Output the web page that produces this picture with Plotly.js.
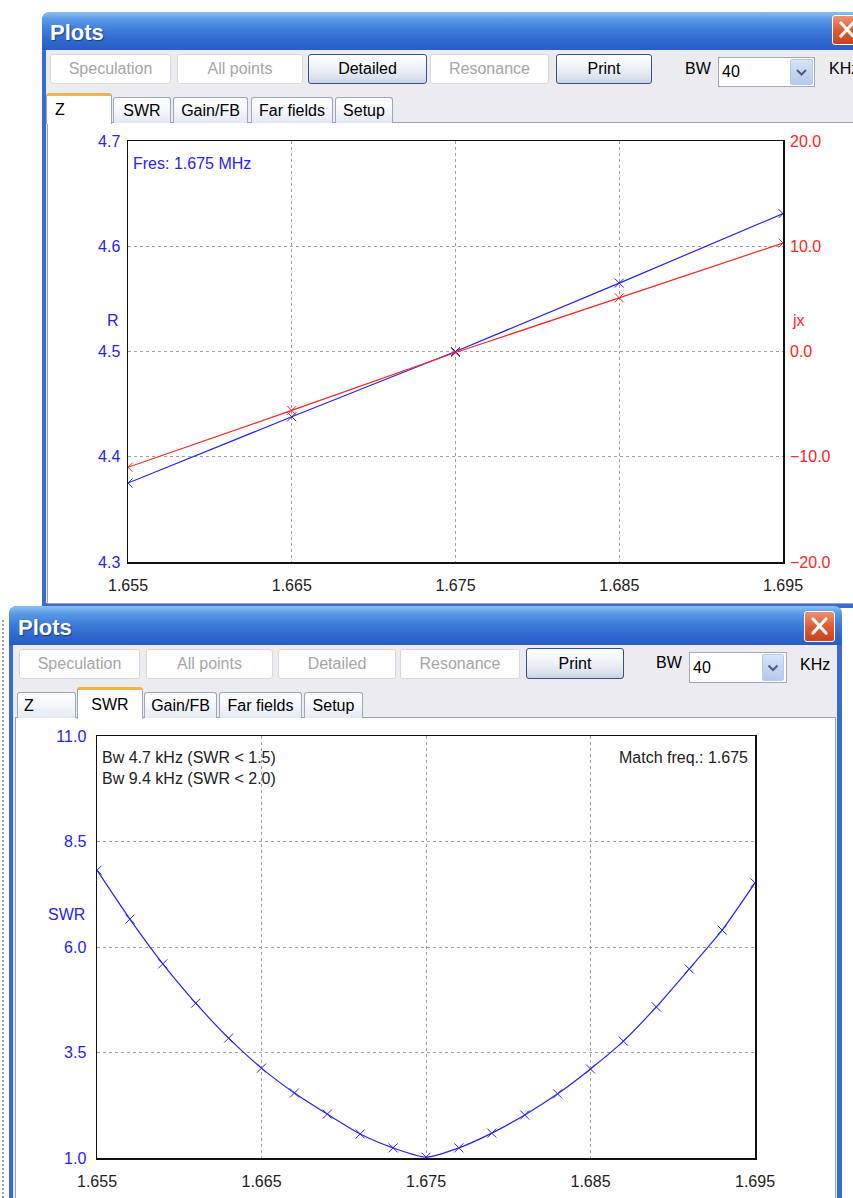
<!DOCTYPE html>
<html><head><meta charset="utf-8">
<script src="https://cdn.plot.ly/plotly-3.0.1.min.js"></script>
<style>
html,body{margin:0;padding:0}
body{width:853px;height:1198px;overflow:hidden;background:#fff;position:relative;font-family:"Liberation Sans",Arial,sans-serif;font-size:16px;color:#000}
.a{position:absolute;box-sizing:border-box}
.frame{background:#3A6AD4;border-radius:8px 8px 0 0}
.title{border-radius:8px 8px 0 0;background:linear-gradient(#8CC2F2 0%,#5C9BE6 18%,#3F7EDB 45%,#2F68CF 75%,#2A5DC4 100%)}
.ttext{color:#fff;font-weight:bold;font-size:22px;text-shadow:1px 1px 1px #1A3C8A;line-height:1}
.body{background:#ECEBF0}
.content{background:#fff;border:1px solid #9AA3B5}
.btn{border:1px solid #D8D8DE;border-radius:3px;background:#fff;color:#A6A6A6;text-align:center;display:flex;align-items:center;justify-content:center}
.btn.on{border:1px solid #35518A;background:linear-gradient(#FFFFFF 0%,#F2F4F9 40%,#DCE2EE 80%,#C9D1E3 100%);color:#000}
.tab{border:1px solid #9AA8BC;border-bottom:none;border-radius:3px 3px 0 0;background:linear-gradient(#FFFFFF 0%,#F4F6FA 50%,#E3E8F1 100%);display:flex;align-items:center;justify-content:center}
.tab.act{background:#fff;border-top:3px solid #F2B24A;z-index:2}
.combo{background:#fff;border:1px solid #9EA9BA;padding-left:3px;display:flex;align-items:center}
.arrow{background:linear-gradient(#D6E3F8,#B4C9EC);border:1px solid #B8C9E6;border-radius:2px}
.close{border-radius:3px;border:1px solid #fff;background:linear-gradient(#EE9270 0%,#DE5C34 50%,#C8431E 100%)}
#plot{position:absolute;left:0;top:0;width:853px;height:1198px;z-index:10}
</style>
</head><body>

<!-- stray dotted line at far left -->
<div class="a" style="left:2px;top:620px;width:2px;height:578px;border-left:2px dotted #444;opacity:0.5"></div>

<!-- ===== TOP WINDOW ===== -->
<div class="a frame" style="left:42px;top:12px;width:830px;height:596px"></div>
<div class="a title" style="left:42px;top:12px;width:830px;height:38px"></div>
<div class="a ttext" style="left:50px;top:22px">Plots</div>
<div class="a close" style="left:832px;top:15px;width:30px;height:30px">
 <svg width="28" height="28" style="position:absolute;left:0;top:0"><path d="M8 7 L20 20 M20 7 L8 20" stroke="#fff" stroke-width="3.2" stroke-linecap="round"/></svg>
</div>
<div class="a body" style="left:46px;top:50px;width:826px;height:553px"></div>
<div class="a btn" style="left:50px;top:54px;width:121px;height:30px">Speculation</div>
<div class="a btn" style="left:177px;top:54px;width:126px;height:30px">All points</div>
<div class="a btn on" style="left:308px;top:54px;width:119px;height:30px">Detailed</div>
<div class="a btn" style="left:430px;top:54px;width:119px;height:30px">Resonance</div>
<div class="a btn on" style="left:556px;top:54px;width:96px;height:30px">Print</div>
<div class="a" style="left:685px;top:60px">BW</div>
<div class="a combo" style="left:718px;top:57px;width:97px;height:30px">40</div>
<div class="a arrow" style="left:790px;top:59px;width:23px;height:26px">
 <svg width="21" height="24" style="position:absolute;left:0;top:0"><path d="M6 10 L10.5 14.5 L15 10" stroke="#4A5E80" stroke-width="2" fill="none"/></svg>
</div>
<div class="a" style="left:829px;top:60px">KHz</div>

<div class="a content" style="left:47px;top:122px;width:830px;height:482px"></div>
<div class="a tab act" style="left:46px;top:93px;width:66px;height:31px;justify-content:flex-start;padding-left:8px">Z</div>
<div class="a tab" style="left:113px;top:97px;width:58px;height:26px">SWR</div>
<div class="a tab" style="left:173px;top:97px;width:75px;height:26px">Gain/FB</div>
<div class="a tab" style="left:251px;top:97px;width:82px;height:26px">Far fields</div>
<div class="a tab" style="left:335px;top:97px;width:58px;height:26px">Setup</div>

<!-- ===== BOTTOM WINDOW ===== -->
<div class="a frame" style="left:9px;top:606px;width:833px;height:600px"></div>
<div class="a title" style="left:9px;top:606px;width:833px;height:39px"></div>
<div class="a ttext" style="left:18px;top:617px">Plots</div>
<div class="a close" style="left:804px;top:611px;width:31px;height:31px">
 <svg width="29" height="29" style="position:absolute;left:0;top:0"><path d="M8 7 L21 21 M21 7 L8 21" stroke="#fff" stroke-width="3.2" stroke-linecap="round"/></svg>
</div>
<div class="a body" style="left:13px;top:645px;width:824px;height:560px"></div>
<div class="a btn" style="left:19px;top:649px;width:121px;height:30px">Speculation</div>
<div class="a btn" style="left:146px;top:649px;width:127px;height:30px">All points</div>
<div class="a btn" style="left:278px;top:649px;width:118px;height:30px">Detailed</div>
<div class="a btn" style="left:400px;top:649px;width:120px;height:30px">Resonance</div>
<div class="a btn on" style="left:526px;top:648px;width:98px;height:31px">Print</div>
<div class="a" style="left:656px;top:654px">BW</div>
<div class="a combo" style="left:689px;top:652px;width:98px;height:31px">40</div>
<div class="a arrow" style="left:762px;top:654px;width:22px;height:27px">
 <svg width="20" height="25" style="position:absolute;left:0;top:0"><path d="M5.5 10.5 L10 15 L14.5 10.5" stroke="#4A5E80" stroke-width="2" fill="none"/></svg>
</div>
<div class="a" style="left:800px;top:656px">KHz</div>

<div class="a content" style="left:15px;top:717px;width:821px;height:490px"></div>
<div class="a tab" style="left:17px;top:692px;width:59px;height:26px;justify-content:flex-start;padding-left:6px">Z</div>
<div class="a tab act" style="left:77px;top:687px;width:66px;height:32px">SWR</div>
<div class="a tab" style="left:144px;top:692px;width:73px;height:26px">Gain/FB</div>
<div class="a tab" style="left:219px;top:692px;width:83px;height:26px">Far fields</div>
<div class="a tab" style="left:304px;top:692px;width:59px;height:26px">Setup</div>

<div id="plot"></div>

<script>
// ---- data ----
const freqZ = [1.655, 1.665, 1.675, 1.685, 1.695];
const resistance = [4.375, 4.438, 4.500, 4.565, 4.631];
const reactance = [-11.0, -5.6, -0.1, 5.1, 10.3];

const freqSWR = [1.655, 1.657, 1.659, 1.661, 1.663, 1.665, 1.667, 1.669, 1.671, 1.673, 1.675,
                 1.677, 1.679, 1.681, 1.683, 1.685, 1.687, 1.689, 1.691, 1.693, 1.695];
const swr = [7.82, 6.66, 5.60, 4.67, 3.84, 3.13, 2.54, 2.04, 1.57, 1.24, 1.02,
             1.24, 1.59, 2.02, 2.52, 3.11, 3.77, 4.58, 5.48, 6.40, 7.52];

const xTicks = [1.655, 1.665, 1.675, 1.685, 1.695];
const rTicks = [4.3, 4.4, 4.5, 4.6, 4.7];
const jxTicks = [-20, -10, 0, 10, 20];
const swrTicks = [1.0, 3.5, 6.0, 8.5, 11.0];

// ---- styling ----
const W = 853, H = 1198;
const px = v => v / W, py = v => 1 - v / H;
const BLUE = '#2323FF', RED = '#FF2424', TXT = '#222';
const FONT = '"Liberation Sans", Arial, sans-serif';

const xCommon = {
  tickvals: xTicks, tickformat: '.3f', range: [1.655, 1.695],
  showgrid: true, gridcolor: '#a0a0a0', griddash: '3px,3px', gridwidth: 1,
  showline: true, linecolor: '#111', linewidth: 1.5, mirror: true,
  zeroline: false, ticks: '', ticklabelstandoff: 8,
  tickfont: {family: FONT, size: 16, color: TXT}, fixedrange: true
};
const yCommon = {
  showgrid: true, gridcolor: '#a0a0a0', griddash: '3px,3px', gridwidth: 1,
  showline: true, linecolor: '#111', linewidth: 1.5, mirror: true,
  zeroline: false, ticks: '', ticklabelstandoff: 3, tickformat: '.1f',
  tickfont: {family: FONT, size: 16, color: BLUE}, fixedrange: true
};

const mk = c => ({symbol: 'x-thin-open', size: 9, color: c, line: {color: c, width: 1}});

const traces = [
  {x: freqZ, y: resistance, xaxis: 'x', yaxis: 'y', mode: 'lines+markers',
   line: {color: BLUE, width: 1.2}, marker: mk(BLUE)},
  {x: freqZ, y: reactance, xaxis: 'x', yaxis: 'y2', mode: 'lines+markers',
   line: {color: RED, width: 1.2}, marker: mk(RED)},
  {x: freqSWR, y: swr, xaxis: 'x2', yaxis: 'y3', mode: 'lines+markers',
   line: {color: BLUE, width: 1.2, shape: 'spline', smoothing: 0.6}, marker: mk(BLUE)}
];

const ann = (text, x, y, color, xanchor) => ({
  text, x: px(x), y: py(y), xref: 'paper', yref: 'paper', showarrow: false,
  xanchor: xanchor || 'left', yanchor: 'middle',
  font: {family: FONT, size: 16, color}
});

const layout = {
  width: W, height: H, margin: {l: 0, r: 0, t: 0, b: 0, pad: 0},
  paper_bgcolor: 'rgba(0,0,0,0)', plot_bgcolor: 'rgba(0,0,0,0)',
  showlegend: false, font: {family: FONT, size: 16},
  xaxis: Object.assign({}, xCommon, {domain: [px(128), px(783)], anchor: 'y'}),
  yaxis: Object.assign({}, yCommon, {domain: [py(562), py(141)], anchor: 'x',
    range: [4.3, 4.7], tickvals: rTicks}),
  yaxis2: Object.assign({}, yCommon, {overlaying: 'y', side: 'right', anchor: 'x',
    range: [-20, 20], tickvals: jxTicks, showgrid: false, showline: false,
    ticklabelstandoff: 6, tickfont: {family: FONT, size: 16, color: RED}}),
  xaxis2: Object.assign({}, xCommon, {domain: [px(97), px(755)], anchor: 'y3'}),
  yaxis3: Object.assign({}, yCommon, {domain: [py(1158), py(736)], anchor: 'x2',
    range: [1, 11], tickvals: swrTicks, ticklabelstandoff: 6}),
  annotations: [
    ann('Fres: 1.675 MHz', 131, 163, BLUE),
    ann('R', 113, 320, BLUE, 'center'),
    ann('jx', 798, 320, RED, 'center'),
    ann('SWR', 66, 915, BLUE, 'center'),
    ann('Bw 4.7 kHz (SWR < 1.5)', 100, 757, TXT),
    ann('Bw 9.4 kHz (SWR < 2.0)', 100, 778, TXT),
    ann('Match freq.: 1.675', 750, 757, TXT, 'right')
  ]
};

Plotly.newPlot('plot', traces, layout, {staticPlot: true, displayModeBar: false});
</script>
</body></html>
